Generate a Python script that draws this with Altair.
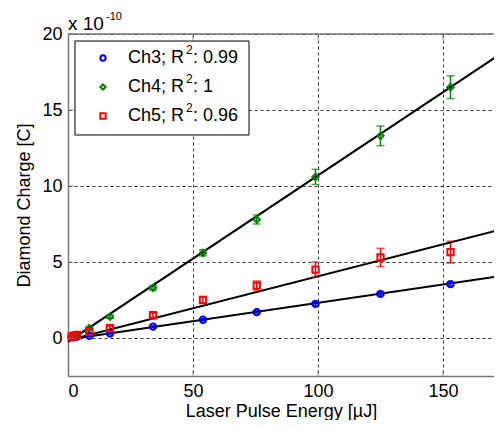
import altair as alt
import pandas as pd

# ---- data ----
energy = [1.5, 2.5, 3.5, 8.5, 16.8, 34, 54, 75.5, 99, 125, 153]
ch3 = [0.05, 0.05, 0.08, 0.15, 0.3, 0.75, 1.2, 1.7, 2.25, 2.9, 3.55]
ch3_err = [0.05, 0.05, 0.05, 0.06, 0.06, 0.07, 0.08, 0.09, 0.1, 0.11, 0.12]
ch4 = [0.1, 0.15, 0.2, 0.65, 1.4, 3.3, 5.6, 7.8, 10.6, 13.3, 16.5]
ch4_err = [0.05, 0.05, 0.05, 0.08, 0.1, 0.15, 0.2, 0.3, 0.5, 0.65, 0.75]
ch5 = [0.1, 0.15, 0.2, 0.4, 0.65, 1.5, 2.5, 3.45, 4.5, 5.3, 5.65]
ch5_err = [0.05, 0.05, 0.06, 0.1, 0.12, 0.15, 0.2, 0.3, 0.5, 0.6, 0.72]

channels = ["Ch3", "Ch4", "Ch5"]
legend_prefix = ["Ch3; R", "Ch4; R", "Ch5; R"]
legend_sup = ["2", "2", "2"]
legend_suffix = [": 0.99", ": 1", ": 0.96"]
colors = ["#0000ff", "#008000", "#ff0000"]
shapes = ["circle", "diamond", "square"]
fit_slope = [0.0241, 0.1095, 0.0421]
fit_intercept = [-0.1, -0.25, -0.15]
fit_x = [0, 175]

x_ticks = [0, 50, 100, 150]
y_ticks = [0, 5, 10, 15, 20]

XMIN, XMAX = 0, 170.4
YMIN, YMAX = -2.5, 20
W, H = 426, 342
FONT = "Liberation Sans"
FS = 18

rows = []
for ch, vals, errs in [("Ch3", ch3, ch3_err), ("Ch4", ch4, ch4_err), ("Ch5", ch5, ch5_err)]:
    for e, v, er in zip(energy, vals, errs):
        rows.append({"ch": ch, "x": e, "y": v, "lo": v - er, "hi": v + er})
df = pd.DataFrame(rows)

fit_rows = []
for ch, s, b in zip(channels, fit_slope, fit_intercept):
    for xv in fit_x:
        fit_rows.append({"ch": ch, "x": xv, "y": s * xv + b})
fit_df = pd.DataFrame(fit_rows)

xs = alt.Scale(domain=[XMIN, XMAX], nice=False, zero=False)
ys = alt.Scale(domain=[YMIN, YMAX], nice=False, zero=False)
cscale = alt.Scale(domain=channels, range=colors)
sscale = alt.Scale(domain=channels, range=shapes)

xaxis = alt.Axis(values=x_ticks, title="Laser Pulse Energy [µJ]", grid=True,
                 gridDash=[3, 3], gridColor="#333333", gridOpacity=1, gridWidth=1,
                 ticks=False, domainColor="#777777", domainWidth=1.5,
                 labelFont=FONT, labelFontSize=FS, labelColor="black", labelPadding=6,
                 titleFont=FONT, titleFontSize=FS, titleFontWeight="normal",
                 titleColor="black", titlePadding=2)
yaxis = alt.Axis(values=y_ticks, title="Diamond Charge [C]", grid=True,
                 gridDash=[3, 3], gridColor="#333333", gridOpacity=1, gridWidth=1,
                 ticks=False, domainColor="#777777", domainWidth=1.5,
                 labelFont=FONT, labelFontSize=FS, labelColor="black", labelPadding=6,
                 titleFont=FONT, titleFontSize=FS, titleFontWeight="normal",
                 titleColor="black", titlePadding=8)

base = alt.Chart(df)

errbar = base.mark_rule(strokeWidth=1.5).encode(
    x=alt.X("x:Q", scale=xs, axis=xaxis),
    y=alt.Y("lo:Q", scale=ys, axis=yaxis),
    y2="hi:Q",
    color=alt.Color("ch:N", scale=cscale, legend=None),
)
cap_lo = base.mark_tick(thickness=1.5, size=8, orient="horizontal").encode(
    x=alt.X("x:Q", scale=xs), y=alt.Y("lo:Q", scale=ys),
    color=alt.Color("ch:N", scale=cscale, legend=None))
cap_hi = base.mark_tick(thickness=1.5, size=8, orient="horizontal").encode(
    x=alt.X("x:Q", scale=xs), y=alt.Y("hi:Q", scale=ys),
    color=alt.Color("ch:N", scale=cscale, legend=None))

fits = alt.Chart(fit_df).mark_line(color="black", strokeWidth=2, clip=True).encode(
    x=alt.X("x:Q", scale=xs), y=alt.Y("y:Q", scale=ys), detail="ch:N")

points = base.mark_point(filled=False, strokeWidth=2, size=40, opacity=1).encode(
    x=alt.X("x:Q", scale=xs), y=alt.Y("y:Q", scale=ys),
    color=alt.Color("ch:N", scale=cscale, legend=None),
    shape=alt.Shape("ch:N", scale=sscale, legend=None))

# frame top and inner ticks
top_rule = alt.Chart(pd.DataFrame({"a": [0]})).mark_rule(color="#777777", strokeWidth=1.5).encode(
    x=alt.value(0), x2=alt.value(W), y=alt.value(0))
xt_df = pd.DataFrame({"x": x_ticks[1:]})
xt_bot = alt.Chart(xt_df).mark_tick(color="#777777", thickness=1, size=6, orient="vertical").encode(
    x=alt.X("x:Q", scale=xs), y=alt.value(H - 3))
xt_top = alt.Chart(xt_df).mark_tick(color="#777777", thickness=1, size=6, orient="vertical").encode(
    x=alt.X("x:Q", scale=xs), y=alt.value(3))
yt_df = pd.DataFrame({"y": y_ticks})
yt_left = alt.Chart(yt_df).mark_tick(color="#777777", thickness=1, size=6, orient="horizontal").encode(
    y=alt.Y("y:Q", scale=ys), x=alt.value(3))

# exponent label
exp_main = alt.Chart(pd.DataFrame({"t": ["x 10"]})).mark_text(
    font=FONT, fontSize=19, align="left", baseline="alphabetic", color="black").encode(
    text="t:N", x=alt.value(0), y=alt.value(-4))
exp_sup = alt.Chart(pd.DataFrame({"t": ["-10"]})).mark_text(
    font=FONT, fontSize=11, align="left", baseline="alphabetic", color="black").encode(
    text="t:N", x=alt.value(38), y=alt.value(-14))

# legend (manual)
leg_df = pd.DataFrame({"ch": channels, "pre": legend_prefix, "sup": legend_sup,
                       "suf": legend_suffix, "ypix": [24, 53, 82]})
leg_df["ysup"] = leg_df["ypix"] - 8
leg_box = alt.Chart(pd.DataFrame({"a": [0]})).mark_rect(
    fill="white", stroke="black", strokeWidth=1).encode(
    x=alt.value(7), x2=alt.value(181), y=alt.value(7), y2=alt.value(101))
leg_pts = alt.Chart(leg_df).mark_point(filled=False, strokeWidth=2, size=28, opacity=1).encode(
    x=alt.value(35), y=alt.Y("ypix:Q", scale=None),
    color=alt.Color("ch:N", scale=cscale, legend=None),
    shape=alt.Shape("ch:N", scale=sscale, legend=None))
leg_pre = alt.Chart(leg_df).mark_text(font=FONT, fontSize=FS, align="left",
                                      baseline="middle", color="black").encode(
    x=alt.value(60), y=alt.Y("ypix:Q", scale=None), text="pre:N")
leg_sup = alt.Chart(leg_df).mark_text(font=FONT, fontSize=12, align="left",
                                      baseline="middle", color="black").encode(
    x=alt.value(118), y=alt.Y("ysup:Q", scale=None), text="sup:N")
leg_suf = alt.Chart(leg_df).mark_text(font=FONT, fontSize=FS, align="left",
                                      baseline="middle", color="black").encode(
    x=alt.value(125), y=alt.Y("ypix:Q", scale=None), text="suf:N")

chart = alt.layer(
    errbar, fits, cap_lo, cap_hi, points, top_rule, xt_bot, xt_top, yt_left,
    exp_main, exp_sup, leg_box, leg_pts, leg_pre, leg_sup, leg_suf
).properties(
    width=W, height=H,
    padding={"left": 60, "top": 26, "right": 0, "bottom": 44},
    autosize=alt.AutoSizeParams(type="none"),
    background="white",
).configure_view(stroke=None)

chart.save("out.html", embed_options={"renderer": "svg", "actions": False})
